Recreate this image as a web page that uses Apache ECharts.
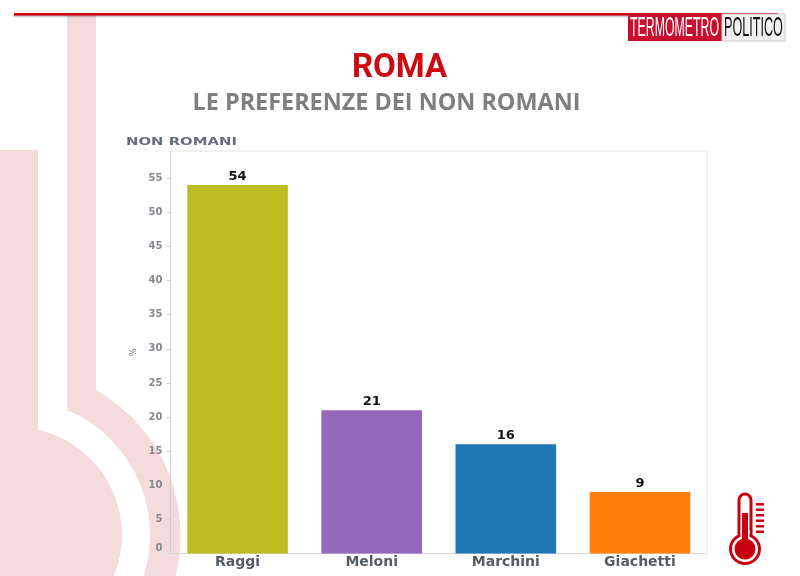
<!DOCTYPE html>
<html>
<head>
<meta charset="utf-8">
<style>
  html, body { margin: 0; padding: 0; background: #fff; }
  #chart { width: 800px; height: 576px; }
</style>
<script src="https://cdn.jsdelivr.net/npm/echarts@6/dist/echarts.min.js"></script>
</head>
<body>
<div id="chart"></div>
<script>
const categories = ['Raggi', 'Meloni', 'Marchini', 'Giachetti'];
const values = [54, 21, 16, 9];
const barColors = ['#bcbd22', '#9467bd', '#1f77b4', '#ff7f0e'];

const red = '#c8000f';
const pink = '#f5dcdc';

// sfondo e logo, disegnati con le grafiche di echarts
const graphics = [
  // termometro rosa dietro il grafico
  { type: 'rect', z: 0, shape: { x: 0, y: 150, width: 38, height: 300 }, style: { fill: pink } },
  { type: 'circle', z: 0, shape: { cx: 14, cy: 535, r: 108 }, style: { fill: pink } },
  { type: 'polygon', z: 0, shape: { points: [[67, 14], [96, 14], [96, 390], [67, 408]] }, style: { fill: pink } },
  { type: 'sector', z: 0, shape: { cx: 14, cy: 535, r: 166.6, r0: 136, startAngle: -1.17, endAngle: 1.2, clockwise: true }, style: { fill: pink } },
  // linea rossa in alto
  { type: 'rect', z: 1, shape: { x: 14, y: 13, width: 764, height: 2.5 }, style: { fill: '#d80010', shadowColor: 'rgba(0,0,0,0.4)', shadowBlur: 2, shadowOffsetY: 1 } },
  // logo
  { type: 'rect', z: 2, shape: { x: 628, y: 14, width: 94, height: 27 }, style: { fill: '#c8102e' } },
  { type: 'rect', z: 2, shape: { x: 722, y: 14, width: 63, height: 27 }, style: { fill: '#f1f1f1', stroke: '#cccccc', lineWidth: 1 } },
  { type: 'text', z: 3, x: 630, y: 14, scaleX: 0.44, style: { text: 'TERMOMETRO', fill: '#fff', font: '28px "Liberation Sans"' } },
  { type: 'text', z: 3, x: 724, y: 14, scaleX: 0.45, style: { text: 'POLITICO', fill: '#111', font: '28px "Liberation Sans"' } },
  // titolo del grafico, allargato come nell'originale
  { type: 'text', z: 3, x: 126, y: 137, scaleX: 1.35, style: { text: 'NON ROMANI', fill: '#666f80', font: 'bold 11px "DejaVu Sans"' } },
  // icona termometro
  { type: 'rect', z: 2, shape: { x: 739, y: 494, width: 12, height: 48, r: 6 }, style: { fill: '#fff', stroke: red, lineWidth: 3 } },
  { type: 'circle', z: 3, shape: { cx: 745, cy: 549, r: 14.5 }, style: { fill: '#fff', stroke: red, lineWidth: 3 } },
  { type: 'rect', z: 4, shape: { x: 740.5, y: 530, width: 9, height: 10 }, style: { fill: '#fff' } },
  { type: 'circle', z: 5, shape: { cx: 745, cy: 549, r: 10.5 }, style: { fill: red } },
  { type: 'rect', z: 5, shape: { x: 742, y: 513, width: 6, height: 30 }, style: { fill: red } },
  { type: 'rect', z: 2, shape: { x: 756, y: 503, width: 8, height: 2.5 }, style: { fill: red } },
  { type: 'rect', z: 2, shape: { x: 756, y: 508.5, width: 8, height: 2.5 }, style: { fill: red } },
  { type: 'rect', z: 2, shape: { x: 756, y: 514, width: 8, height: 2.5 }, style: { fill: red } },
  { type: 'rect', z: 2, shape: { x: 756, y: 519.5, width: 8, height: 2.5 }, style: { fill: red } },
  { type: 'rect', z: 2, shape: { x: 756, y: 525, width: 8, height: 2.5 }, style: { fill: red } },
  { type: 'rect', z: 2, shape: { x: 756, y: 530.5, width: 8, height: 2.5 }, style: { fill: red } }
];

const chart = echarts.init(document.getElementById('chart'), null, { renderer: 'canvas' });

chart.setOption({
  backgroundColor: '#fff',
  animation: false,
  title: [
    {
      text: 'ROMA',
      left: 394.5, top: 43, textAlign: 'center',
      textStyle: { color: '#cc0a12', fontFamily: 'Roboto', fontWeight: 'bold', fontSize: 33, lineHeight: 42 }
    },
    {
      text: 'LE PREFERENZE DEI NON ROMANI',
      left: 381.5, top: 84, textAlign: 'center',
      textStyle: { color: '#7f7f7f', fontFamily: 'Open Sans', fontWeight: 'bold', fontSize: 23.4, lineHeight: 28 }
    }
  ],
  graphic: graphics,
  grid: { left: 170.5, right: 93, top: 151, bottom: 22.5, show: true, borderColor: '#e4e4e4', borderWidth: 1, backgroundColor: 'transparent' },
  xAxis: {
    type: 'category',
    data: categories,
    axisLine: { lineStyle: { color: '#d8d8d8' } },
    axisTick: { length: 3, lineStyle: { color: '#c0c0c0' } },
    axisLabel: { color: '#555c66', fontFamily: 'DejaVu Sans', fontWeight: 'bold', fontSize: 14, margin: 2 }
  },
  yAxis: {
    type: 'value',
    min: 0,
    max: 59,
    interval: 5,
    name: '%',
    nameLocation: 'middle',
    nameGap: 26,
    nameTextStyle: { color: '#777', fontFamily: 'DejaVu Sans', fontSize: 8 },
    splitLine: { show: false },
    axisLine: { show: true, lineStyle: { color: '#cfcfcf' } },
    axisTick: { show: true, length: 4, lineStyle: { color: '#d5d5d5' } },
    axisLabel: {
      color: '#85888f', fontFamily: 'DejaVu Sans', fontWeight: 'bold', fontSize: 10, margin: 8,
      showMaxLabel: false, verticalAlignMinLabel: 'bottom'
    }
  },
  series: [{
    type: 'bar',
    barWidth: '75%',
    data: values.map((v, i) => ({ value: v, itemStyle: { color: barColors[i] } })),
    label: {
      show: true, position: 'top', distance: 2,
      color: '#111', fontFamily: 'DejaVu Sans', fontWeight: 'bold', fontSize: 13
    }
  }]
});
</script>
</body>
</html>
